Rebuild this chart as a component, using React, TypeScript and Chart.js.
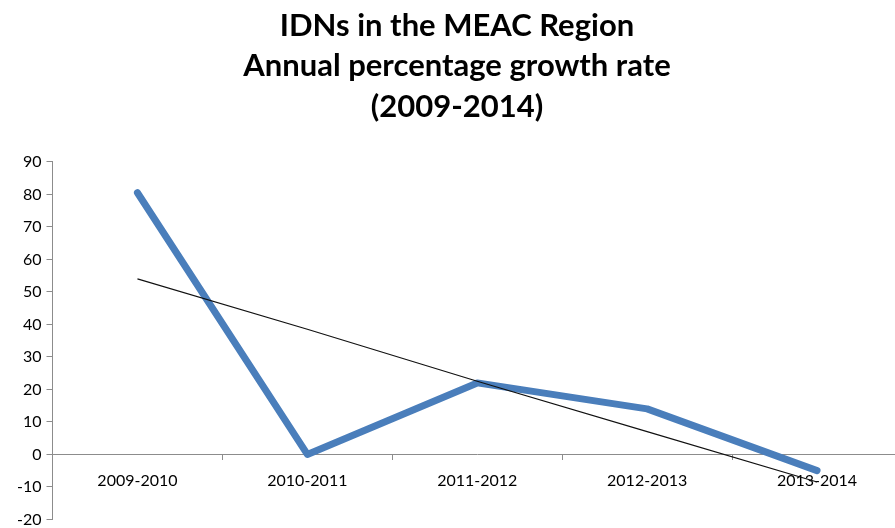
import React, { useEffect, useRef } from "react";
import { Chart, registerables } from "chart.js";

Chart.register(...registerables);

const categories = ["2009-2010", "2010-2011", "2011-2012", "2012-2013", "2013-2014"];
const growthRate = [80.5, 0, 22, 14, -5];
const trendLine = [54, 38.5, 22.5, 7, -8.5];
const titleLines = ["IDNs in the MEAC Region", "Annual percentage growth rate", "(2009-2014)"];

export default function App() {
  const ref = useRef<HTMLCanvasElement | null>(null);
  useEffect(() => {
    if (!ref.current) return;
    const chart = new Chart(ref.current, {
      type: "line",
      data: {
        labels: categories,
        datasets: [
          {
            label: "Growth rate",
            data: growthRate,
            borderColor: "#4A7EBB",
            borderWidth: 7,
            pointRadius: 0,
            borderJoinStyle: "round",
            borderCapStyle: "round",
            tension: 0,
            order: 2,
          },
          {
            label: "Trend",
            data: trendLine,
            borderColor: "#111111",
            borderWidth: 1.2,
            pointRadius: 0,
            tension: 0,
            order: 1,
          },
        ],
      },
      options: {
        responsive: false,
        animation: false,
        layout: { padding: { left: 12, right: 18, top: 6, bottom: 0 } },
        plugins: {
          legend: { display: false },
          tooltip: { enabled: false },
          title: {
            display: true,
            text: titleLines,
            color: "#000",
            font: { family: "Lato", size: 31, weight: "bold", lineHeight: 1.3 },
            padding: { top: 0, bottom: 35 },
          },
        },
        scales: {
          x: {
            type: "category",
            position: { y: 0 } as any,
            offset: true,
            grid: {
              display: true,
              offset: true,
              drawOnChartArea: false,
              drawTicks: true,
              tickLength: 5,
              color: "#8c8c8c",
            },
            border: { display: true, color: "#8c8c8c", width: 1 },
            ticks: {
              color: "#000",
              font: { family: "Lato", size: 16 },
              padding: 12,
              maxRotation: 0,
            },
          },
          y: {
            min: -20,
            max: 90,
            grid: {
              display: true,
              drawOnChartArea: false,
              drawTicks: true,
              tickLength: 6,
              color: "#8c8c8c",
            },
            border: { display: true, color: "#8c8c8c", width: 1 },
            ticks: {
              stepSize: 10,
              color: "#000",
              font: { family: "Lato", size: 16 },
              padding: 5,
            },
          },
        },
      },
    });
    return () => chart.destroy();
  }, []);
  return (
    <div style={{ position: "absolute", left: 0, top: 0, width: 895, height: 528, overflow: "hidden", background: "#fff" }}>
      <canvas ref={ref} width={920} height={534} style={{ display: "block" }} />
    </div>
  );
}
